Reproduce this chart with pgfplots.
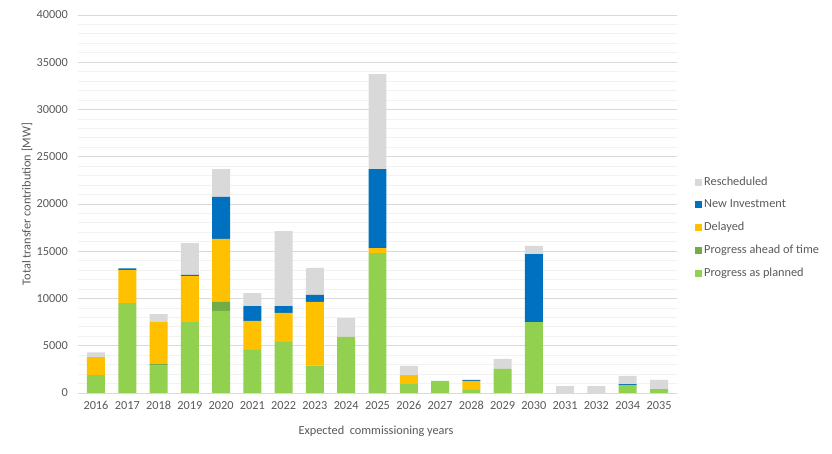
\documentclass[border=0pt]{standalone}
\usepackage{fontspec}
\setmainfont{Carlito}
\usepackage{pgfplots}
\usepackage{pgfplotstable}
\pgfplotsset{compat=1.18}
\definecolor{tgray}{HTML}{595959}
\definecolor{cres}{HTML}{D9D9D9}
\definecolor{cnew}{HTML}{0070C0}
\definecolor{cdel}{HTML}{FFC000}
\definecolor{cahead}{HTML}{70AD47}
\definecolor{cplan}{HTML}{92D050}
\definecolor{gmaj}{HTML}{D9D9D9}
\definecolor{gmin}{HTML}{F2F2F2}
\pgfplotstableread{
x planned ahead delayed new resched
0 1900 0 1900 0 500
1 9500 0 3500 200 0
2 2900 200 4400 0 850
3 7500 0 4880 120 3370
4 8700 950 6650 4450 2950
5 4550 0 3070 1580 1380
6 5400 0 3070 730 7940
7 2900 0 6730 740 2860
8 5930 0 0 0 2010
9 14800 0 530 8360 10060
10 950 0 950 0 960
11 1270 0 0 0 0
12 320 0 950 110 0
13 2540 0 0 0 1060
14 7500 0 0 7200 860
15 0 0 0 0 740
16 0 0 0 0 740
17 850 0 0 100 850
18 420 0 0 0 960
}\datatable
\begin{document}
\fontsize{12}{14}\selectfont
\begin{tikzpicture}
\useasboundingbox (0,0) rectangle (832pt,454pt);
\begin{axis}[
  at={(78pt,61pt)}, anchor=south west,
  scale only axis, width=599pt, height=378pt,
  ybar stacked, bar width=0.575,
  xmin=-0.575, xmax=18.575, ymin=0, ymax=40000,
  xtick=data,
  xticklabels={2016,2017,2018,2019,2020,2021,2022,2023,2024,2025,2026,2027,2028,2029,2030,2031,2032,2034,2035},
  ytick={0,5000,...,40000},
  scaled y ticks=false,
  minor y tick num=4,
  ymajorgrids, yminorgrids,
  major grid style={draw=gmaj, line width=0.8pt},
  minor grid style={draw=gmin, line width=0.8pt},
  axis lines*=left,
  x axis line style={-, draw=gmaj, line width=0.8pt},
  y axis line style={draw=none},
  major tick length=0pt, minor tick length=0pt,
  tick label style={text=tgray, font=\fontsize{12.3}{14}\selectfont},
  /pgf/number format/assume math mode=true,
  /pgf/number format/1000 sep={},
  yticklabel style={xshift=-6pt},
  xticklabel style={yshift=-4pt},
  ylabel={Total transfer contribution [MW]},
  ylabel style={at={(axis description cs:-0.085,0.5)}, anchor=center, rotate=0, text=tgray, font=\fontsize{12.3}{14}\selectfont},
  xlabel={Expected\ \ commissioning years},
  xlabel style={at={(axis description cs:0.4975,-0.1005)}, anchor=center, text=tgray, font=\fontsize{12.3}{14}\selectfont},
  legend style={at={(axis description cs:1.03,0.577)}, anchor=north west, draw=none, fill=none,
    font=\fontsize{12.3}{14}\selectfont, text=tgray, row sep=8.6pt, inner sep=0pt,
    legend cell align=left},
  legend image code/.code={\fill[#1] (0pt,-3.5pt) rectangle (7pt,3.5pt);},
  reverse legend,
]
\addplot[fill=cplan, draw=none] table[x=x, y=planned] {\datatable};
\addplot[fill=cahead, draw=none] table[x=x, y=ahead] {\datatable};
\addplot[fill=cdel, draw=none] table[x=x, y=delayed] {\datatable};
\addplot[fill=cnew, draw=none] table[x=x, y=new] {\datatable};
\addplot[fill=cres, draw=none] table[x=x, y=resched] {\datatable};
\legend{Progress as planned, Progress ahead of time, Delayed, New Investment, Rescheduled}
\end{axis}
\end{tikzpicture}
\end{document}
